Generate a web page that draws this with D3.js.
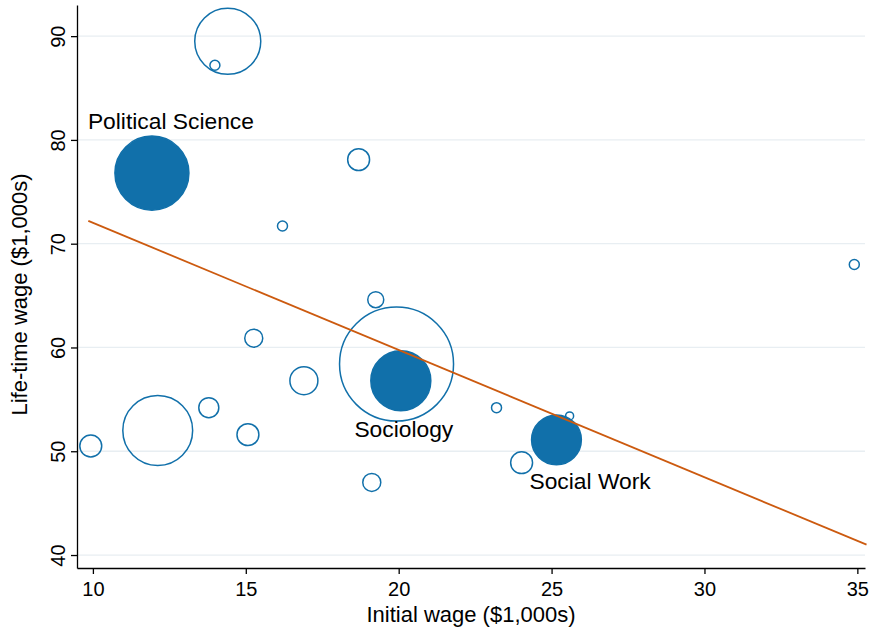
<!DOCTYPE html>
<html><head><meta charset="utf-8">
<script src="https://cdn.jsdelivr.net/npm/d3@7"></script>
<style>body{margin:0;background:#fff;font-family:"Liberation Sans",Arial,sans-serif}</style>
</head><body><div id="chart"></div>
<script>
// data
var initialWage = [14.41, 13.99, 11.93, 18.69, 16.2, 34.9, 19.25, 15.26, 19.93, 20.07, 16.9, 13.79, 23.2, 25.59, 12.12, 15.07, 9.93, 25.16, 24.02, 19.12];
var lifeWage    = [89.5, 87.2, 76.8, 78.1, 71.7, 68.0, 64.6, 60.9, 58.4, 56.8, 56.8, 54.2, 54.2, 53.4, 52.0, 51.6, 50.5, 51.1, 48.9, 47.0];
var weight      = [109, 2.5, 137, 12, 2.5, 2.5, 6.4, 8.1, 325, 90, 19.6, 10, 2.5, 1.6, 122, 12, 12, 62, 12, 8.1];
var highlighted = [false, false, true, false, false, false, false, false, false, true, false, false, false, false, false, false, false, true, false, false];
var labels = [{name: "Political Science", i: 2, dx: -64, dy: -44, anchor: "start"},
              {name: "Sociology", i: 9, dx: 3, dy: 56, anchor: "middle"},
              {name: "Social Work", i: 17, dx: -27, dy: 49, anchor: "start"}];
var fitX = [9.85, 35.3];
var fitY = [72.2, 41.0];
var xTicks = [10, 15, 20, 25, 30, 35];
var yTicks = [40, 50, 60, 70, 80, 90];

var svgWidth = 870, svgHeight = 633;
var margin = {top: 5, right: 5, bottom: 65, left: 77};
var width = svgWidth - margin.left - margin.right;
var height = svgHeight - margin.top - margin.bottom;
var blue = "#1170aa";

var svg = d3.select("#chart").append("svg").attr("width", svgWidth).attr("height", svgHeight);
var g = svg.append("g").attr("transform", `translate(${margin.left},${margin.top})`);

var x = d3.scaleLinear().domain([9.48, 35.25]).range([0, width]);
var y = d3.scaleLinear().domain([38.75, 93]).range([height, 0]);
var r = d3.scaleSqrt().domain([0, 325]).range([0, 57]);

// grid
g.selectAll(".grid").data(yTicks).enter().append("line")
  .attr("x1", 0).attr("x2", width)
  .attr("y1", d => y(d)).attr("y2", d => y(d))
  .attr("stroke", "#e8eef2").attr("stroke-width", 1.3);

var pts = d3.range(initialWage.length);
g.selectAll(".pt").data(pts).enter().append("circle")
  .attr("cx", i => x(initialWage[i])).attr("cy", i => y(lifeWage[i]))
  .attr("r", i => r(weight[i]))
  .attr("fill", i => highlighted[i] ? blue : "none")
  .attr("stroke", blue).attr("stroke-width", 1.5);

// fit line
g.append("line")
  .attr("x1", x(fitX[0])).attr("y1", y(fitY[0]))
  .attr("x2", x(fitX[1])).attr("y2", y(fitY[1]))
  .attr("stroke", "#cc5a0f").attr("stroke-width", 1.8);

g.selectAll(".lab").data(labels).enter().append("text")
  .attr("x", d => x(initialWage[d.i]) + d.dx)
  .attr("y", d => y(lifeWage[d.i]) + d.dy)
  .attr("text-anchor", d => d.anchor)
  .attr("font-size", 22.8).text(d => d.name);

var xAxis = g.append("g").attr("transform", `translate(0,${height})`)
  .call(d3.axisBottom(x).tickValues(xTicks).tickSize(6).tickSizeOuter(0));
var yAxis = g.append("g")
  .call(d3.axisLeft(y).tickValues(yTicks).tickSize(6).tickSizeOuter(0));
[xAxis, yAxis].forEach(a => {
  a.select(".domain").attr("stroke", "#000").attr("stroke-width", 1.3);
  a.selectAll(".tick line").attr("stroke", "#000").attr("stroke-width", 1.3);
  a.selectAll("text").attr("font-size", 20).attr("fill", "#000").attr("font-family", "Liberation Sans, Arial");
});
xAxis.selectAll("text").attr("dy", "0.95em");
yAxis.selectAll("text").attr("transform", "rotate(-90)").attr("text-anchor", "middle")
  .attr("x", 0).attr("y", -12).attr("dy", "0");

svg.append("text").attr("x", margin.left + width / 2).attr("y", 622)
  .attr("text-anchor", "middle").attr("font-size", 22).text("Initial wage ($1,000s)");
svg.append("text").attr("transform", `translate(27,${margin.top + height / 2 + 8}) rotate(-90)`)
  .attr("text-anchor", "middle").attr("font-size", 22).text("Life-time wage ($1,000s)");
</script>
</body></html>
